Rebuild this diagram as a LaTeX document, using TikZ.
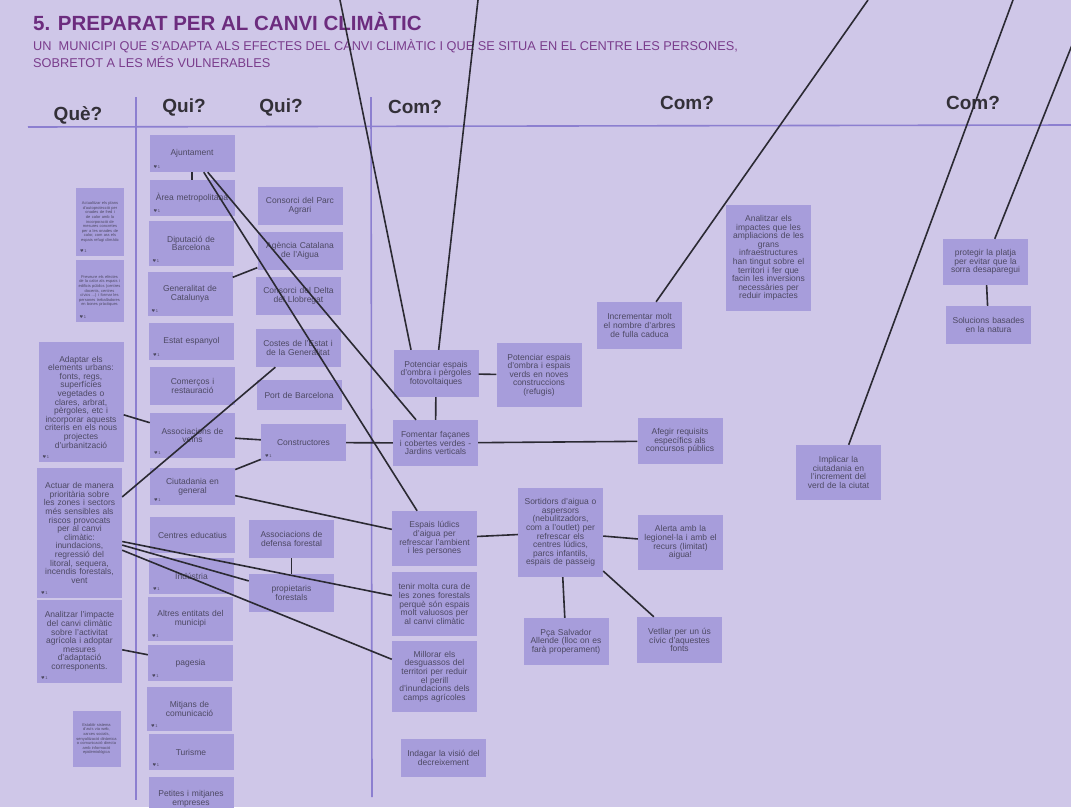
\documentclass[tikz,border=0pt]{standalone}
\usepackage{fontspec}
\setmainfont{Liberation Sans}
\newfontfamily\symfont{DejaVu Sans}

\definecolor{bgcol}{HTML}{CFC7E8}
\definecolor{cardcol}{HTML}{A79DDB}
\definecolor{inkcol}{HTML}{4D4963}
\definecolor{linkcol}{HTML}{2B2A33}
\definecolor{rulecol}{HTML}{8C7FD0}
\definecolor{titlecol}{HTML}{6C2C7E}
\definecolor{subcol}{HTML}{7A3D8C}
\definecolor{headcol}{HTML}{333038}

\begin{document}
\begin{tikzpicture}[x=1pt,y=-1pt]
  \tikzstyle{card}=[fill=cardcol,text=inkcol,text width=76pt,align=center,inner xsep=4.5pt,inner ysep=2pt,font=\fontsize{8.5}{8.6}\selectfont]
  \tikzstyle{tiny card}=[card,text width=42pt,inner xsep=3pt,font=\fontsize{4}{4.6}\selectfont]
  \tikzstyle{heart}=[anchor=south west,inner sep=0pt,xshift=4pt,yshift=4pt,text=inkcol,font=\fontsize{4}{4}\selectfont]
  \tikzstyle{liked}=[label={[heart]south west:{\symfont ♥}\,1}]
  \tikzstyle{head}=[text=headcol,font=\fontsize{19}{19}\selectfont\bfseries]
  \tikzstyle{link}=[draw=linkcol,line width=1.6pt]
  \tikzstyle{rule}=[draw=rulecol,line width=1.6pt]
  %
  \useasboundingbox (0,0) rectangle (1071,807);
  \fill[bgcol] (0,0) rectangle (1071,807);
  \clip (0,0) rectangle (1071,807);
  %
  \node [anchor=base west,inner sep=0pt,text=titlecol,font=\fontsize{20.5}{20.5}\selectfont\bfseries] (title) at (33,30) {5. PREPARAT PER AL CANVI CLIMÀTIC};
  \node [anchor=base west,inner sep=0pt,text=subcol,font=\fontsize{12.75}{12.75}\selectfont] (sub1) at (33,50.5) {UN\ \ MUNICIPI QUE S'ADAPTA ALS EFECTES DEL CANVI CLIMÀTIC I QUE SE SITUA EN EL CENTRE LES PERSONES,};
  \node [anchor=base west,inner sep=0pt,text=subcol,font=\fontsize{12.75}{12.75}\selectfont] (sub2) at (33,67) {SOBRETOT A LES MÉS VULNERABLES};
  %
  \node [head] (que)  at (78,115)  {Què?};
  \node [head] (qui1) at (184,107) {Qui?};
  \node [head] (qui2) at (281,107) {Qui?};
  \node [head] (com1) at (415,107) {Com?};
  \node [head] (com2) at (687,103) {Com?};
  \node [head] (com3) at (973,103) {Com?};
  %
  \draw [rule] (28,127) -- (1071,125);
  \draw [rule] (136,97) -- (136,800);
  \draw [rule] (371,97) -- (372,797);
  %
  % Que?
  \node [tiny card,liked,minimum height=68pt] (autoproteccio) at (100,222) {Actualitzar els plans d'autoprotecció per onades de fred i de calor amb la incorporació de mesures concretes per a les onades de calor, com ara els espais refugi climàtic};
  \node [tiny card,liked,minimum height=62pt] (calor)   at (99.5,291) {Preveure els efectes de la calor als espais i edificis públics (centres docents, centres cívics ...) i formar les persones treballadores en bones pràctiques};
  \node [card,liked,minimum height=120pt] (adaptar)   at (81,402)   {Adaptar els\\elements urbans:\\fonts, regs,\\superfícies\\vegetades o\\clares, arbrat,\\pèrgoles, etc i\\incorporar aquests\\criteris en els nous\\projectes\\d'urbanització};
  \node [card,liked,minimum height=130pt] (actuar)    at (79.5,533) {Actuar de manera\\prioritària sobre\\les zones i sectors\\més sensibles als\\riscos provocats\\per al canvi\\climàtic:\\inundacions,\\regressió del\\litoral, sequera,\\incendis forestals,\\vent};
  \node [card,liked,minimum height=83pt] (analitzar)  at (79.5,641.5) {Analitzar l'impacte\\del canvi climàtic\\sobre l'activitat\\agrícola i adoptar\\mesures\\d'adaptació\\corresponents.};
  \node [tiny card,minimum height=56pt] (avis)        at (96.5,739) {Establir sistema d'avís via web, xarxes socials, senyalització dinàmica o comunicació directa amb informació epidemiològica};
  %
  % Qui? (1)
  \node [card,liked,minimum height=37pt] (ajuntament)  at (192,153.5)   {Ajuntament};
  \node [card,liked,minimum height=36pt] (area)        at (192,198)     {Àrea metropolitana};
  \node [card,liked,minimum height=45pt] (diputacio)   at (191,243.5)   {Diputació de\\Barcelona};
  \node [card,liked,minimum height=44pt] (generalitat) at (190,294)     {Generalitat de\\Catalunya};
  \node [card,liked,minimum height=37pt] (estat)       at (191.5,341.5) {Estat espanyol};
  \node [card,minimum height=38pt]       (comercos)    at (192.5,386)   {Comerços i\\restauració};
  \node [card,liked,minimum height=45pt] (veins)       at (192.5,435.5) {Associacions de\\veïns};
  \node [card,liked,minimum height=37pt] (ciutadania)  at (192.5,486.5) {Ciutadania en\\general};
  \node [card,minimum height=36pt]       (centres)     at (192.5,535)   {Centres educatius};
  \node [card,liked,minimum height=36pt] (industria)   at (191.5,576)   {Indústria};
  \node [card,liked,minimum height=44pt] (altres)      at (190.5,619)   {Altres entitats del\\municipi};
  \node [card,liked,minimum height=36pt] (pagesia)     at (190.5,663)   {pagesia};
  \node [card,liked,minimum height=44pt] (mitjans)     at (189.5,709)   {Mitjans de\\comunicació};
  \node [card,liked,minimum height=36pt] (turisme)     at (191,752)     {Turisme};
  \node [card,minimum height=43pt]       (petites)     at (191,798.5)   {Petites i mitjanes\\empreses};
  %
  % Qui? (2)
  \node [card,minimum height=38pt] (parcagrari)   at (300,206)   {Consorci del Parc\\Agrari};
  \node [card,minimum height=38pt] (agencia)      at (300,251)   {Agència Catalana\\de l'Aigua};
  \node [card,minimum height=38pt] (delta)        at (298.5,296) {Consorci del Delta\\del Llobregat};
  \node [card,minimum height=38pt] (costes)       at (298,348)   {Costes de l'Estat i\\de la Generalitat};
  \node [card,minimum height=30pt] (port)         at (299,395)   {Port de Barcelona};
  \node [card,liked,minimum height=37pt] (constructors) at (303.5,442.5) {Constructores};
  \node [card,minimum height=38pt] (defensa)      at (291.5,539) {Associacions de\\defensa forestal};
  \node [card,minimum height=38pt] (propietaris)  at (291.5,593) {propietaris\\forestals};
  %
  % Com?
  \node [card,minimum height=47pt]  (potenciar)   at (436,373.5)   {Potenciar espais\\d'ombra i pèrgoles\\fotovoltaiques};
  \node [card,minimum height=64pt]  (refugis)     at (539,375)     {Potenciar espais\\d'ombra i espais\\verds en noves\\construccions\\(refugis)};
  \node [card,minimum height=46pt]  (fomentar)    at (435.5,443)   {Fomentar façanes\\i cobertes verdes -\\Jardins verticals};
  \node [card,minimum height=55pt]  (ludics)      at (434.5,538.5) {Espais lúdics\\d'aigua per\\refrescar l'ambient\\i les persones};
  \node [card,minimum height=64pt]  (cura)        at (434.5,604)   {tenir molta cura de\\les zones forestals\\perquè són espais\\molt valuosos per\\al canvi climàtic};
  \node [card,minimum height=71pt]  (desguassos)  at (434.5,676.5) {Millorar els\\desguassos del\\territori per reduir\\el perill\\d'inundacions dels\\camps agrícoles};
  \node [card,minimum height=38pt]  (decreixement) at (443.5,758)  {Indagar la visió del\\decreixement};
  \node [card,minimum height=89pt]  (sortidors)   at (560.5,532.5) {Sortidors d'aigua o\\aspersors\\(nebulitzadors,\\com a l'outlet) per\\refrescar els\\centres lúdics,\\parcs infantils,\\espais de passeig};
  \node [card,minimum height=47pt]  (allende)     at (566,641.5)   {Pça Salvador\\Allende (lloc on es\\farà properament)};
  \node [card,minimum height=46pt]  (afegir)      at (680,441)     {Afegir requisits\\específics als\\concursos públics};
  \node [card,minimum height=55pt]  (alerta)      at (680.5,542.5) {Alerta amb la\\legionel·la i amb el\\recurs (limitat)\\aigua!};
  \node [card,minimum height=46pt]  (vetllar)     at (679.5,640)   {Vetllar per un ús\\cívic d'aquestes\\fonts};
  \node [card,minimum height=47pt]  (arbres)      at (639.5,325.5) {Incrementar molt\\el nombre d'arbres\\de fulla caduca};
  \node [card,minimum height=106pt] (infra)       at (768.5,258)   {Analitzar els\\impactes que les\\ampliacions de les\\grans\\infraestructures\\han tingut sobre el\\territori i fer que\\facin les inversions\\necessàries per\\reduir impactes};
  \node [card,minimum height=55pt]  (implicar)    at (838.5,472.5) {Implicar la\\ciutadania en\\l'increment del\\verd de la ciutat};
  \node [card,minimum height=46pt]  (platja)      at (985.5,262)   {protegir la platja\\per evitar que la\\sorra desaparegui};
  \node [card,minimum height=38pt]  (natura)      at (988.5,325)   {Solucions basades\\en la natura};
  %
  \coordinate (top1) at (340,0);
  \coordinate (top2) at (478,0);
  \coordinate (top3) at (868,0);
  \coordinate (top4) at (1013,0);
  \coordinate (top5) at (1090,0);
  %
  \path [link]
  (top1)         edge ([xshift=-25pt]potenciar.north)
  (top2)         edge (potenciar)
  (top3)         edge (arbres)
  (top4)         edge (implicar)
  (top5)         edge (platja)
  (ajuntament)   edge (area)
  (ajuntament)   edge (fomentar)
  (ajuntament)   edge (ludics)
  (generalitat)  edge (agencia)
  (adaptar)      edge (veins)
  (actuar)       edge (costes)
  (actuar)       edge (propietaris)
  (actuar)       edge (cura)
  (actuar)       edge (desguassos)
  (analitzar)    edge (pagesia)
  (veins)        edge (constructors)
  (ciutadania)   edge (constructors)
  (ciutadania)   edge (ludics)
  (constructors) edge (fomentar)
  (defensa)      edge (propietaris)
  (potenciar)    edge (refugis)
  (potenciar)    edge (fomentar)
  (fomentar)     edge (afegir)
  (ludics)       edge (sortidors)
  (sortidors)    edge (alerta)
  (sortidors)    edge (allende)
  (sortidors)    edge (vetllar)
  (platja)       edge (natura);
\end{tikzpicture}
\end{document}
